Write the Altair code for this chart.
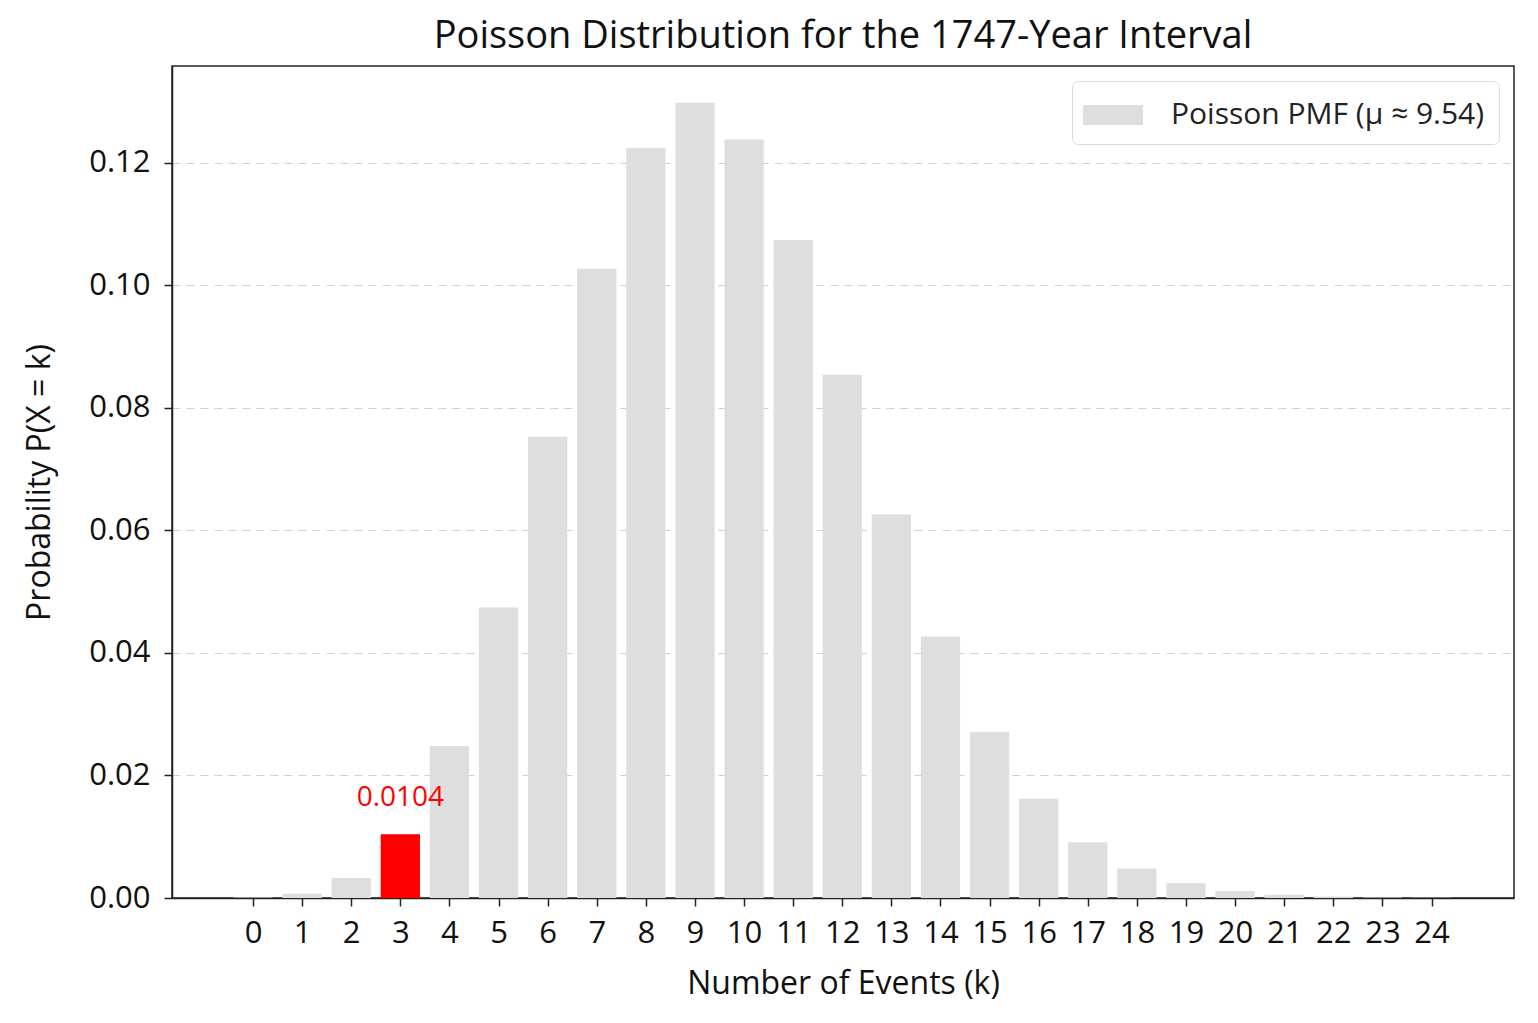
import altair as alt
import pandas as pd

# values
k_values = list(range(25))
pmf_values = [0.00007, 0.00069, 0.00327, 0.0104, 0.0248, 0.0474, 0.0753, 0.1027,
              0.1224, 0.1298, 0.1238, 0.1074, 0.0854, 0.0626, 0.0427, 0.0271,
              0.0162, 0.0091, 0.0048, 0.0024, 0.00115, 0.00052, 0.00023, 0.0001,
              0.00004]
highlight_k = 3
highlight_label = "0.0104"
legend_label = "Poisson PMF (μ ≈ 9.54)"
y_ticks = [0.0, 0.02, 0.04, 0.06, 0.08, 0.10, 0.12]

FONT = "Open Sans"
GRAY = "#dedede"
RED = "#ff0000"

df = pd.DataFrame({"k": k_values, "p": pmf_values})
df["series"] = legend_label
df["label"] = ""
df.loc[df.k == highlight_k, "label"] = highlight_label

xscale = alt.Scale(domain=[-1.65, 25.68], nice=False, zero=False)
yscale = alt.Scale(domain=[0, 0.1358], nice=False)

base = alt.Chart(df).transform_calculate(
    k0="datum.k - 0.4", k1="datum.k + 0.4"
)

bars = base.transform_filter(f"datum.k != {highlight_k}").mark_bar(cornerRadius=0).encode(
    x=alt.X("k0:Q", scale=xscale,
            axis=alt.Axis(values=k_values, format="d", title="Number of Events (k)",
                          grid=False)),
    x2="k1:Q",
    y=alt.Y("p:Q", scale=yscale,
            axis=alt.Axis(values=y_ticks, format=".2f", title="Probability P(X = k)",
                          grid=True, gridDash=[8, 6], gridColor="#d0d0d0", gridWidth=1.2)),
    y2=alt.datum(0),
    color=alt.Color("series:N", scale=alt.Scale(domain=[legend_label], range=[GRAY]),
                    legend=alt.Legend(title=None, orient="top-right", offset=15,
                                      symbolType="M-1.5,-0.5H1.5V0.5H-1.5Z",
                                      symbolSize=1600, symbolStrokeWidth=0,
                                      symbolOffset=7,
                                      labelFontSize=30, labelFont=FONT, labelColor="#222",
                                      labelOffset=38, labelLimit=0,
                                      strokeColor="#d8d8d8", fillColor="white",
                                      cornerRadius=6, padding=14)),
)

red = base.transform_filter(f"datum.k == {highlight_k}").mark_bar(color=RED).encode(
    x=alt.X("k0:Q", scale=xscale), x2="k1:Q", y=alt.Y("p:Q", scale=yscale),
    y2=alt.datum(0),
)

label = base.transform_filter(f"datum.k == {highlight_k}").mark_text(
    color=RED, font=FONT, fontSize=28, baseline="bottom", dy=-22
).encode(
    x=alt.X("k:Q", scale=xscale), y=alt.Y("p:Q", scale=yscale), text="label:N"
)

chart = alt.layer(bars, red, label).properties(
    width=1342, height=832,
    title=alt.TitleParams("Poisson Distribution for the 1747-Year Interval",
                          font=FONT, fontSize=38, fontWeight="normal", color="#111",
                          offset=10),
    autosize=alt.AutoSizeParams(type="none"),
    padding={"left": 164, "top": 58, "right": 10, "bottom": 110},
).configure_view(stroke="#222", strokeWidth=1.5).configure_axis(
    labelFont=FONT, titleFont=FONT, labelFontSize=31, titleFontSize=32,
    titleFontWeight="normal", labelColor="#111", titleColor="#111",
    domainColor="#222", domainWidth=1.5, tickColor="#222", tickSize=8, tickWidth=1.5,
    labelPadding=12,
).configure_axisX(titlePadding=20).configure_axisY(titlePadding=32, labelPadding=14)

chart.save("out.html", embed_options={"renderer": "svg", "actions": False})
